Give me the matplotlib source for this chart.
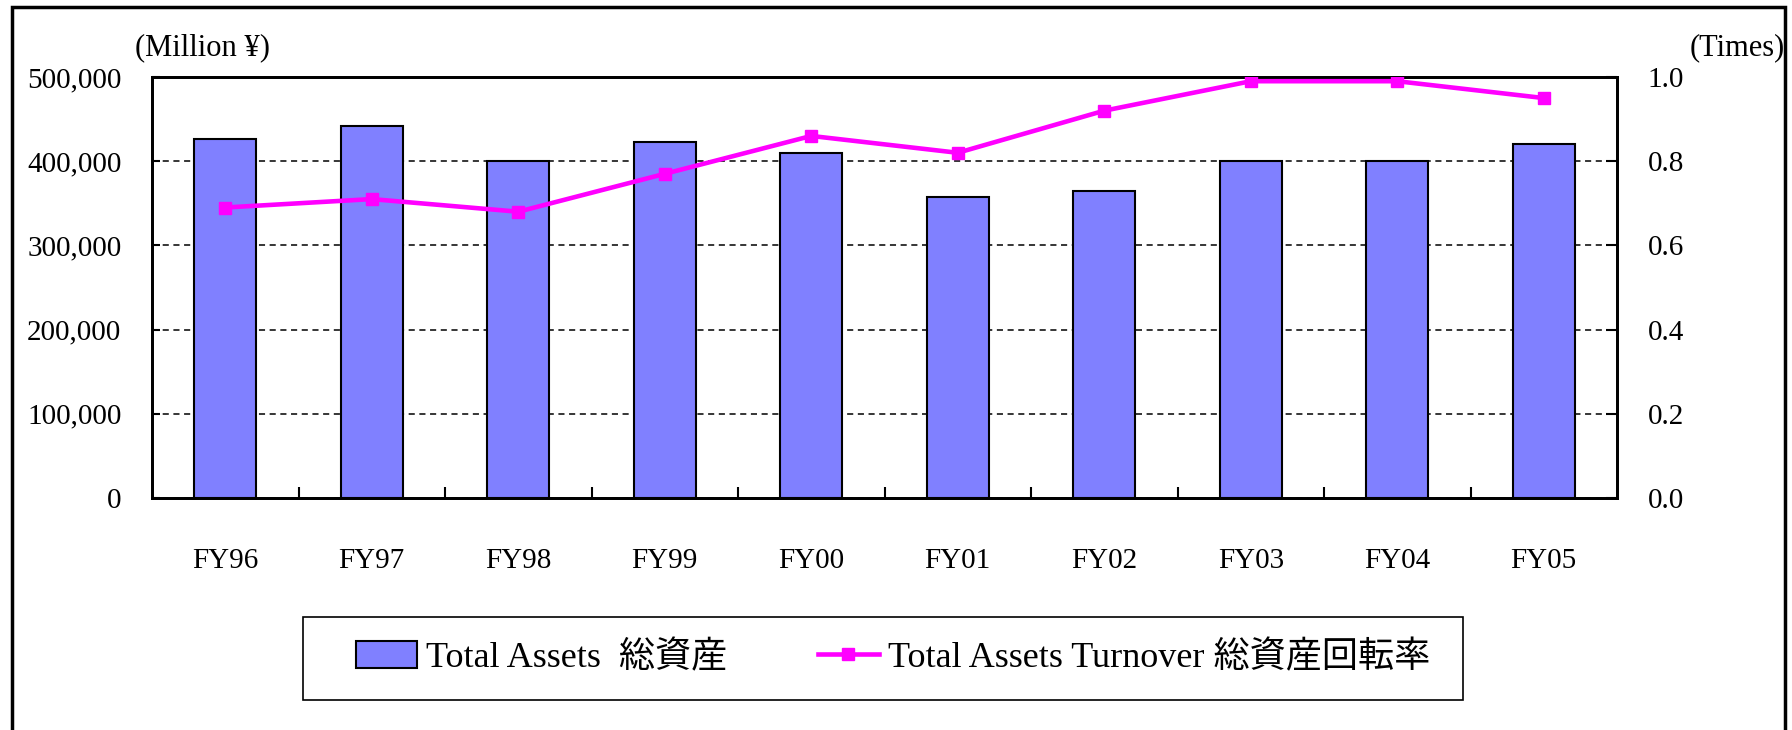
import matplotlib

matplotlib.use("Agg")

import matplotlib.pyplot as plt
import numpy as np
from matplotlib.patches import Rectangle
from matplotlib.ticker import FuncFormatter, FixedLocator

plt.rcParams["font.family"] = ["Liberation Serif", "Noto Sans CJK JP"]

YEARS = ["FY96", "FY97", "FY98", "FY99", "FY00", "FY01", "FY02", "FY03", "FY04", "FY05"]
TOTAL_ASSETS = [426000, 442000, 400000, 423000, 410000, 357000, 365000, 400000, 400000, 420000]
TURNOVER = [0.69, 0.71, 0.68, 0.77, 0.86, 0.82, 0.92, 0.99, 0.99, 0.95]

BAR_LABEL = "Total Assets  総資産"
LINE_LABEL = "Total Assets Turnover 総資産回転率"

W, H = 1792, 730

fig = plt.figure(figsize=(W / 100, H / 100), dpi=100)
ax = fig.add_axes([152 / W, 1 - 498 / H, 1465 / W, 421 / H])

x = np.arange(len(YEARS))
bars = ax.bar(x, TOTAL_ASSETS, width=0.42, color="#8080FF", edgecolor="black",
              linewidth=1.5, zorder=3, label=BAR_LABEL)
ax.set_xlim(-0.5, len(YEARS) - 0.5)
ax.set_ylim(0, 500000)
ax.set_yticks(np.arange(0, 500001, 100000))
ax.yaxis.set_major_formatter(FuncFormatter(lambda v, _: f"{int(v):,}"))
ax.yaxis.grid(True, linestyle=(0, (4, 3)), color="black", linewidth=1.1)
ax.set_axisbelow(True)

ax.set_xticks(x)
ax.set_xticklabels(YEARS)
ax.xaxis.set_minor_locator(FixedLocator(np.arange(0.5, len(YEARS) - 1, 1.0)))
ax.tick_params(axis="x", which="major", length=0, pad=36, labelsize=21)
ax.tick_params(axis="x", which="minor", direction="in", length=8, width=1.5)
ax.tick_params(axis="y", direction="in", length=6, width=1.5, pad=22, labelsize=21)

ax2 = ax.twinx()
line, = ax2.plot(x, TURNOVER, color="#FF00FF", linewidth=3.3, marker="s",
                 markersize=8.5, zorder=5, label=LINE_LABEL)
ax2.set_ylim(0, 1.0)
ax2.set_yticks(np.arange(0, 1.01, 0.2))
ax2.yaxis.set_major_formatter(FuncFormatter(lambda v, _: f"{v:.1f}"))
ax2.tick_params(axis="y", direction="in", length=8, width=1.5, pad=22, labelsize=21)

for a in (ax, ax2):
    for s in a.spines.values():
        s.set_linewidth(2)
        s.set_color("black")

fig.text(135 / W, 1 - 48 / H, "(Million ¥)", fontsize=22, va="center", ha="left")
fig.text(1785 / W, 1 - 48 / H, "(Times)", fontsize=22, va="center", ha="right")

# legend entries without frame; the box is drawn separately
leg = fig.legend([bars, line], [BAR_LABEL, LINE_LABEL], loc="center",
                 bbox_to_anchor=(893 / W, 1 - 658 / H), ncol=2, fontsize=26,
                 frameon=False, borderpad=0,
                 handlelength=1.7, handleheight=0.8, handletextpad=0.25,
                 columnspacing=2.5)
fig.add_artist(Rectangle((303 / W, 1 - 700 / H), (1463 - 303) / W, 83 / H,
                         transform=fig.transFigure, fill=False,
                         edgecolor="black", linewidth=1.2))

fig.add_artist(Rectangle((12 / W, -0.1), (1785 - 12) / W, (H - 7) / H + 0.1,
                         transform=fig.transFigure, fill=False,
                         edgecolor="black", linewidth=2.5, clip_on=False))

fig.savefig("out.png", dpi=100)
